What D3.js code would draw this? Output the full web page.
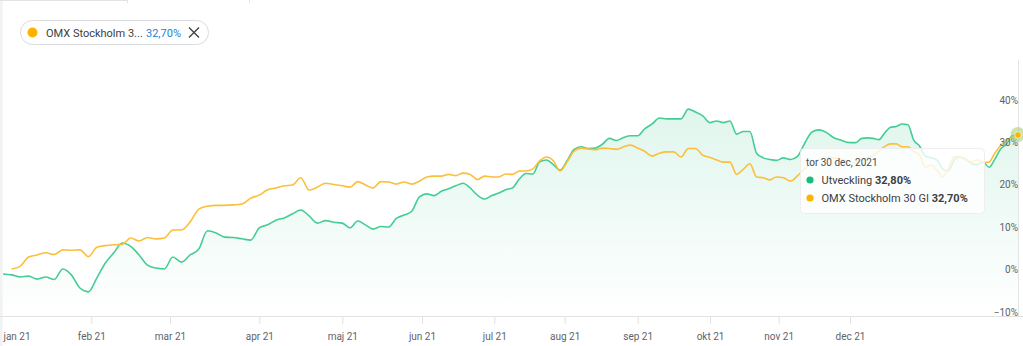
<!DOCTYPE html>
<html>
<head>
<meta charset="utf-8">
<script src="https://cdn.jsdelivr.net/npm/d3@7"></script>
<style>
  body { margin: 0; background: #fff; }
  svg { display: block; font-family: Roboto, "Noto Sans", sans-serif; }
</style>
</head>
<body>
<svg id="chart" width="1023" height="346"></svg>
<script>
// ---- data (day of year 2021, 0 = 1 jan) ----
var sampleDays = [
  0, 3, 6, 9, 12, 15, 18, 21, 24, 27, 30,
  33, 36, 39, 42, 45, 48, 51, 54, 57,
  60, 63, 66, 69, 72, 75, 78, 81, 84, 87,
  90, 93, 96, 99, 102, 105, 108, 111, 114, 117,
  120, 123, 126, 129, 132, 135, 138, 141, 144, 147, 150,
  153, 156, 159, 162, 165, 168, 171, 174, 177, 180,
  183, 186, 189, 192, 195, 198, 201, 204, 207, 210,
  213, 216, 219, 222, 225, 228, 231, 234, 237, 240,
  243, 246, 249, 252, 255, 258, 261, 264, 267, 270,
  273, 276, 279, 282, 285, 288, 291, 294, 297, 300, 303,
  306, 309, 312, 315, 318, 321, 324, 327, 330,
  334, 335, 336, 337, 338, 339, 340, 341, 342, 343, 344, 345, 346, 347, 348,
  349, 350, 351, 352, 353, 354, 355, 356, 357, 358, 359, 360, 361, 362, 363
];

// Utveckling (%)
var fund = [
  -0.1, -0.3, -0.8, -0.6, -1.3, -0.8, -1.4, 1.1, -0.3, -3.4, -4.3,
  -1.0, 2.5, 4.9, 7.2, 6.4, 4.4, 2.0, 1.3, 1.1,
  3.9, 2.7, 4.4, 5.8, 10.1, 9.6, 8.6, 8.5, 8.2, 7.9,
  10.8, 11.5, 12.6, 13.1, 14.1, 15.0, 13.6, 11.9, 12.5, 12.1,
  11.9, 10.8, 12.4, 11.5, 10.5, 11.1, 11.0, 13.0, 13.8, 14.7, 18.1,
  18.8, 18.4, 19.4, 20.0, 20.7, 21.3, 20.2, 18.5, 17.6, 18.4,
  19.0, 19.8, 20.2, 22.3, 23.6, 23.5, 26.4, 26.8, 25.7, 24.4,
  26.6, 29.3, 29.9, 29.5, 29.6, 30.5, 31.9, 31.4, 32.1, 32.5,
  32.5, 34.2, 35.3, 36.7, 36.5, 36.5, 36.5, 38.8, 38.1, 37.2,
  35.6, 36.0, 35.6, 36.0, 32.9, 33.5, 33.5, 28.4, 27.3, 26.9, 26.7,
  27.3, 26.9, 27.7, 30.8, 33.4, 33.9, 33.3, 32.1, 31.5,
  30.9, 30.9, 31.9, 32.0, 31.9, 31.6, 33.2, 34.5, 34.7, 35.3, 35.1, 31.5, 30.1, 27.7, 27.3,
  26.8, 24.7, 24.2, 26.8, 27.5, 27.0, 25.9, 25.7, 26.3, 25.1, 27.0, 29.4, 30.5, 32.5, 32.8
];

// OMX Stockholm 30 GI (%)
var omx = [
  null, 1.1, 1.7, 3.9, 4.4, 4.9, 4.5, 5.6, 5.5, 5.6, 4.0,
  6.2, 6.6, 6.8, 6.9, 8.4, 7.7, 8.5, 8.2, 8.4,
  10.3, 10.3, 12.2, 15.2, 15.9, 16.1, 16.1, 16.2, 16.4, 17.8,
  18.5, 19.8, 20.2, 20.7, 20.9, 22.6, 19.7, 20.4, 21.3, 21.0,
  20.7, 20.4, 21.7, 20.9, 20.2, 21.7, 21.6, 21.1, 21.6, 21.1, 21.8,
  22.8, 23.0, 23.0, 23.4, 23.1, 23.7, 23.4, 22.2, 23.0, 22.8,
  22.8, 23.5, 23.4, 24.2, 24.2, 24.7, 26.6, 27.5, 26.6, 24.2,
  26.3, 28.9, 29.6, 29.4, 29.2, 29.6, 29.5, 29.3, 29.9, 30.3,
  29.6, 28.8, 27.7, 28.4, 28.7, 28.7, 27.5, 29.5, 29.5, 27.9,
  27.4, 26.8, 26.3, 26.3, 23.4, 24.6, 25.9, 22.8, 22.6, 22.1, 22.8,
  22.6, 21.8, 23.1, 24.7, 26.1, 27.0, 27.5, 27.3, 27.0,
  26.4, 26.1, 26.8, 27.4, 27.9, 28.9, 30.0, 30.6, 30.6, 29.9, 29.9, 28.8, 28.0, 25.1, 25.6,
  24.4, 22.8, 24.9, 27.6, 27.5, 26.8, 26.4, 26.8, 26.2, 26.3, 28.4, 30.2, 31.4, 32.1, 32.7
];

var monthStarts = [0, 31, 59, 90, 120, 151, 181, 212, 243, 273, 304, 334];
var monthLabels = ["jan 21", "feb 21", "mar 21", "apr 21", "maj 21", "jun 21",
                   "jul 21", "aug 21", "sep 21", "okt 21", "nov 21", "dec 21"];
var yTicks = [-10, 0, 10, 20, 30, 40];

var tooltipTitle = "tor 30 dec, 2021";
var legendName = "OMX Stockholm 3...";
var legendValue = "32,70%";

// ---- layout ----
var svg = d3.select("#chart");
var W = 1023, bottom = 316;

// the x axis of the source is not evenly spaced per day, so the scale is piecewise
var x = d3.scaleLinear()
  .domain(monthStarts.concat([363]))
  .range([3, 91.3, 170, 259.3, 342.3, 422, 494.3, 564.7, 637.7, 710, 778.7, 850, 1018]);

var y = d3.scaleLinear().domain([-10, 40]).range([bottom, 104]);

var green = "#44cd95", orange = "#fcbf3a";

// page remnants: left strip and bits of the toolbar above
svg.append("rect").attr("x", 0).attr("y", 0).attr("width", 2.5).attr("height", 346).attr("fill", "#f1f2f3");
svg.append("path").attr("d", "M0,0.5H127.5V3M249.5,0V3")
  .attr("fill", "none").attr("stroke", "#e3e3e3");

// gradient for the area
var defs = svg.append("defs");
var grad = defs.append("linearGradient").attr("id", "fundFill")
  .attr("gradientUnits", "userSpaceOnUse")
  .attr("x1", 0).attr("x2", 0).attr("y1", 105).attr("y2", bottom);
grad.append("stop").attr("offset", 0).attr("stop-color", "#1abc7b").attr("stop-opacity", 0.14);
grad.append("stop").attr("offset", 1).attr("stop-color", "#1abc7b").attr("stop-opacity", 0.0);

var pts = sampleDays.map(function(d, i) { return { d: d, f: fund[i], o: omx[i] }; });

var area = d3.area()
  .x(function(p) { return x(p.d); })
  .y0(bottom)
  .y1(function(p) { return y(p.f); })
  .curve(d3.curveMonotoneX);

svg.append("path").datum(pts).attr("d", area).attr("fill", "url(#fundFill)");

// x axis
var xAxis = d3.axisBottom(x)
  .tickValues(monthStarts)
  .tickFormat(function(d, i) { return monthLabels[i]; })
  .tickSize(8)
  .tickPadding(9);

var gx = svg.append("g").attr("transform", "translate(0," + bottom + ")").call(xAxis);
gx.select(".domain").attr("d", "M0,0.5H" + W).attr("stroke", "#e2e2e2");
gx.selectAll(".tick line").attr("stroke", "#e2e2e2");
gx.selectAll(".tick text").attr("fill", "#5f6368").attr("font-size", 10)
  .attr("font-family", "Roboto, sans-serif");
gx.select(".tick:first-of-type line").remove();
gx.select(".tick:first-of-type text").attr("text-anchor", "start").attr("x", 0);

// hover line at the last point
svg.append("line")
  .attr("x1", x(363) + 0.5).attr("x2", x(363) + 0.5)
  .attr("y1", 60).attr("y2", bottom)
  .attr("stroke", "#e4e4e4");

// lines
var fundLine = d3.line()
  .x(function(p) { return x(p.d); })
  .y(function(p) { return y(p.f); })
  .curve(d3.curveMonotoneX);

var omxLine = d3.line()
  .defined(function(p) { return p.o != null; })
  .x(function(p) { return x(p.d); })
  .y(function(p) { return y(p.o); })
  .curve(d3.curveMonotoneX);

svg.append("path").datum(pts).attr("d", fundLine)
  .attr("fill", "none").attr("stroke", green).attr("stroke-width", 1.6);
svg.append("path").datum(pts).attr("d", omxLine)
  .attr("fill", "none").attr("stroke", orange).attr("stroke-width", 1.6);

// y axis labels on the right
var yAxis = d3.axisLeft(y)
  .tickValues(yTicks)
  .tickSize(0)
  .tickFormat(function(d) { return (d < 0 ? "\u2212" : "") + Math.abs(d) + "%"; });

var gy = svg.append("g").attr("transform", "translate(1018,0)").call(yAxis);
gy.select(".domain").remove();
gy.selectAll(".tick text").attr("x", 0).attr("dy", -1)
  .attr("fill", "#5f6368").attr("font-size", 10).attr("font-family", "Roboto, sans-serif");

// tooltip
var tip = svg.append("g").attr("transform", "translate(800,148)");
tip.append("rect").attr("x", 0.5).attr("y", 0.5).attr("width", 184).attr("height", 65).attr("rx", 4)
  .attr("fill", "rgba(255,255,255,0.8)").attr("stroke", "#eeeeee");
tip.append("text").attr("x", 6).attr("y", 18).attr("font-size", 10).attr("fill", "#4a4d51")
  .text(tooltipTitle);

var rows = [
  { name: "Utveckling ", value: fund[fund.length - 1], color: "#16bd7c" },
  { name: "OMX Stockholm 30 GI ", value: omx[omx.length - 1], color: "#ffb300" }
];
rows.forEach(function(r, i) {
  var ry = 36 + i * 18;
  tip.append("circle").attr("cx", 10).attr("cy", ry - 4).attr("r", 3.6).attr("fill", r.color);
  var t = tip.append("text").attr("x", 21.5).attr("y", ry).attr("font-size", 11).attr("fill", "#3c4043");
  t.append("tspan").text(r.name);
  t.append("tspan").attr("font-weight", "bold").text(d3.format(".2f")(r.value).replace(".", ",") + "%");
});

// end marker
var lastDay = sampleDays[sampleDays.length - 1];
svg.append("circle").attr("cx", x(lastDay)).attr("cy", y(fund[fund.length - 1]))
  .attr("r", 7.5).attr("fill", "#a9d27a").attr("fill-opacity", 0.6);
svg.append("circle").attr("cx", x(lastDay)).attr("cy", y(omx[omx.length - 1]))
  .attr("r", 3.2).attr("fill", "#ffb300").attr("stroke", "#fff").attr("stroke-width", 0.6);

// legend pill
var leg = svg.append("g");
leg.append("rect").attr("x", 20.5).attr("y", 20.5).attr("width", 188).attr("height", 24).attr("rx", 12)
  .attr("fill", "#fff").attr("stroke", "#dadce0");
leg.append("circle").attr("cx", 32.5).attr("cy", 32.5).attr("r", 5).attr("fill", "#ffb300");
leg.append("text").attr("x", 46).attr("y", 36.5).attr("font-size", 11).attr("fill", "#3c4043").text(legendName);
leg.append("text").attr("x", 146).attr("y", 36.5).attr("font-size", 11).attr("fill", "#1a84d6").text(legendValue);
leg.append("path").attr("d", "M189,27.5L199,37.5M199,27.5L189,37.5")
  .attr("stroke", "#444").attr("stroke-width", 1.4).attr("fill", "none");
</script>
</body>
</html>
